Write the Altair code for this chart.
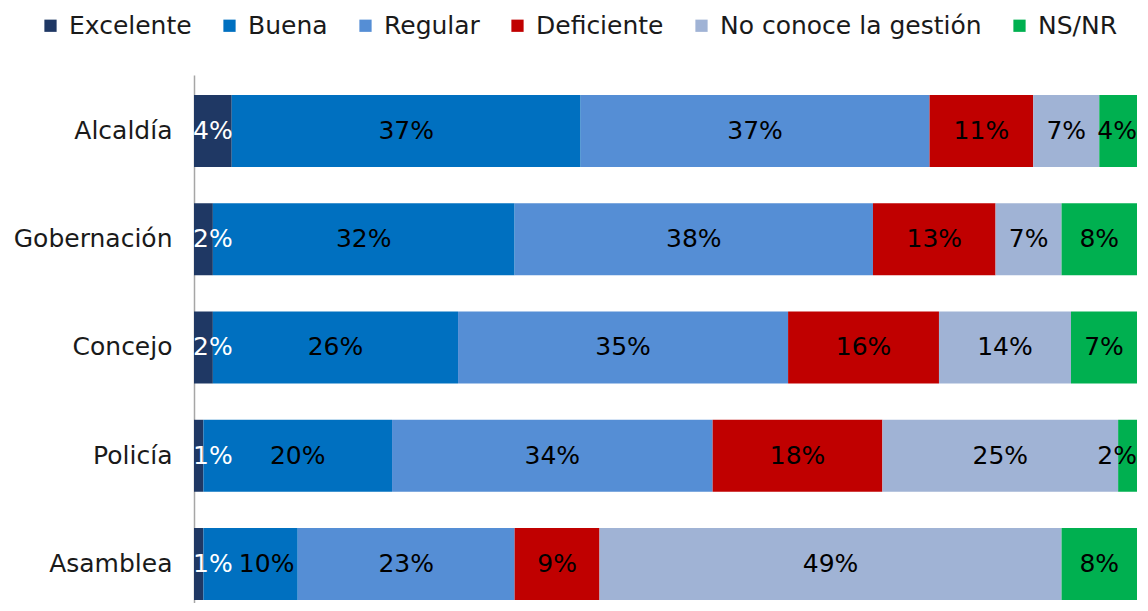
import altair as alt
import pandas as pd

categories = ["Alcaldía", "Gobernación", "Concejo", "Policía", "Asamblea"]
series = ["Excelente", "Buena", "Regular", "Deficiente", "No conoce la gestión", "NS/NR"]
excelente = [4, 2, 2, 1, 1]
buena = [37, 32, 26, 20, 10]
regular = [37, 38, 35, 34, 23]
deficiente = [11, 13, 16, 18, 9]
no_conoce = [7, 7, 14, 25, 49]
nsnr = [4, 8, 7, 2, 8]
colors = ["#1F3864", "#0070C0", "#558ED5", "#C00000", "#A0B3D5", "#00B050"]

values = [excelente, buena, regular, deficiente, no_conoce, nsnr]
rows = []
for si, (s, vals) in enumerate(zip(series, values)):
    for c, v in zip(categories, vals):
        rows.append({"cat": c, "serie": s, "ord": si, "value": v})
df = pd.DataFrame(rows)

FONT = "DejaVu Sans"
FS = 25

base = alt.Chart(df).transform_stack(
    stack="value", groupby=["cat"], as_=["x0", "x1"],
    sort=[alt.SortField("ord", order="ascending")]
).transform_calculate(
    mid="(datum.x0 + datum.x1) / 2",
    label="datum.value + '%'"
).transform_calculate(
    # keep labels inside the plot and clear of the neighbouring small label
    lx="datum.ord == 1 ? max(datum.mid, 7.7) : clamp(datum.mid, 2.0, 97.9)"
)

yenc = alt.Y("cat:N", sort=categories, title=None,
             scale=alt.Scale(paddingInner=0.335, paddingOuter=0.106, align=0.87),
             axis=alt.Axis(labelFontSize=FS, labelFont=FONT, labelColor="#1a1a1a",
                           labelPadding=22, ticks=False, domainColor="#A6A6A6",
                           domainWidth=1.5, labelFontWeight="normal", labelLimit=0))

bars = base.mark_bar().encode(
    x=alt.X("x0:Q", scale=alt.Scale(domain=[0, 100], nice=False), axis=None),
    x2="x1:Q",
    y=yenc,
    color=alt.Color("serie:N", sort=series,
                    scale=alt.Scale(domain=series, range=colors),
                    legend=alt.Legend(title=None, orient="none", direction="horizontal",
                                      legendX=-156, legendY=-62,
                                      symbolType="square", symbolSize=150,
                                      symbolStrokeWidth=0, labelFontSize=FS,
                                      labelFont=FONT, labelColor="#1a1a1a",
                                      labelOffset=6, columnPadding=25, columns=6,
                                      labelLimit=0)),
)

text = base.mark_text(fontSize=FS, font=FONT, baseline="middle", align="center").encode(
    x=alt.X("lx:Q"),
    y=alt.Y("cat:N", sort=categories),
    text="label:N",
    color=alt.condition(alt.datum.serie == "Excelente", alt.value("white"), alt.value("black")),
)

chart = alt.layer(bars, text).properties(
    width=943, height=528,
    padding={"left": 186, "top": 67, "right": 3, "bottom": 0},
    autosize=alt.AutoSizeParams(type="none"),
).configure_view(stroke=None)

chart.save("out.html", embed_options={"renderer": "svg", "actions": False})
